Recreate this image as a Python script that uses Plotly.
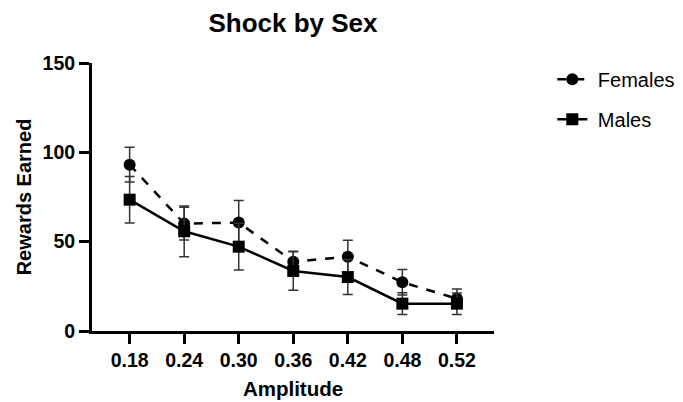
import plotly.graph_objects as go

amplitudes = ["0.18", "0.24", "0.30", "0.36", "0.42", "0.48", "0.52"]
females = [93.1, 60.1, 60.7, 38.8, 41.6, 27.3, 18.1]
females_sem = [9.7, 9.1, 12.4, 5.8, 9.2, 7.1, 5.4]
males = [73.5, 55.8, 47.2, 33.6, 30.2, 15.3, 15.3]
males_sem = [13.0, 14.2, 13.1, 10.8, 9.8, 6.1, 6.0]

FONT = "Liberation Sans, Arial, sans-serif"
W, H = 675, 394  # page body has an 8px margin

fig = go.Figure()
fig.add_trace(go.Scatter(
    x=amplitudes, y=females, name="\u00a0Females", mode="lines+markers",
    legendgroup="f",
    line=dict(color="black", width=2.5, dash="dash"),
    marker=dict(symbol="circle", size=12, color="black"),
    error_y=dict(type="data", array=females_sem, visible=True,
                 color="#333333", thickness=1.5, width=5),
))
fig.add_trace(go.Scatter(
    x=amplitudes, y=males, name="\u00a0Males", mode="lines+markers",
    legendgroup="m",
    line=dict(color="black", width=2.5),
    marker=dict(symbol="square", size=12, color="black"),
    error_y=dict(type="data", array=males_sem, visible=True,
                 color="#333333", thickness=1.5, width=5),
))

fig.update_layout(
    width=W, height=H,
    margin=dict(l=84, r=189, t=55, b=71, autoexpand=False),
    paper_bgcolor="white", plot_bgcolor="white",
    font=dict(family=FONT, color="black"),
    title=dict(text="<b>Shock by Sex</b>", x=285/W, xanchor="center", xref="container",
               y=1 - 15/H, yanchor="middle", yref="container",
               font=dict(size=26, family=FONT)),
    showlegend=True,
    legend=dict(x=1.145, xanchor="left", y=1.012, yanchor="top", itemwidth=30,
                font=dict(size=20, family=FONT), tracegroupgap=11,
                traceorder="grouped", bgcolor="rgba(0,0,0,0)"),
    xaxis=dict(
        type="category", range=[-0.69, 6.68], automargin=False,
        showline=True, linecolor="black", linewidth=3,
        ticks="outside", ticklen=10, tickwidth=2.5, tickcolor="black",
        tickfont=dict(size=19.5, family=FONT, weight="bold"),
        showgrid=False, zeroline=False,
        title=dict(text="<b>Amplitude</b>", font=dict(size=20.5, family=FONT), standoff=12),
    ),
    yaxis=dict(
        range=[0, 150], tickvals=[0, 50, 100, 150], automargin=False,
        showline=True, linecolor="black", linewidth=3,
        ticks="outside", ticklen=10, tickwidth=2.5, tickcolor="black",
        tickfont=dict(size=19.5, family=FONT, weight="bold"),
        showgrid=False, zeroline=False,
        title=dict(text="<b>Rewards Earned</b>", font=dict(size=20, family=FONT), standoff=6),
    ),
)

fig.write_html("out.html")
